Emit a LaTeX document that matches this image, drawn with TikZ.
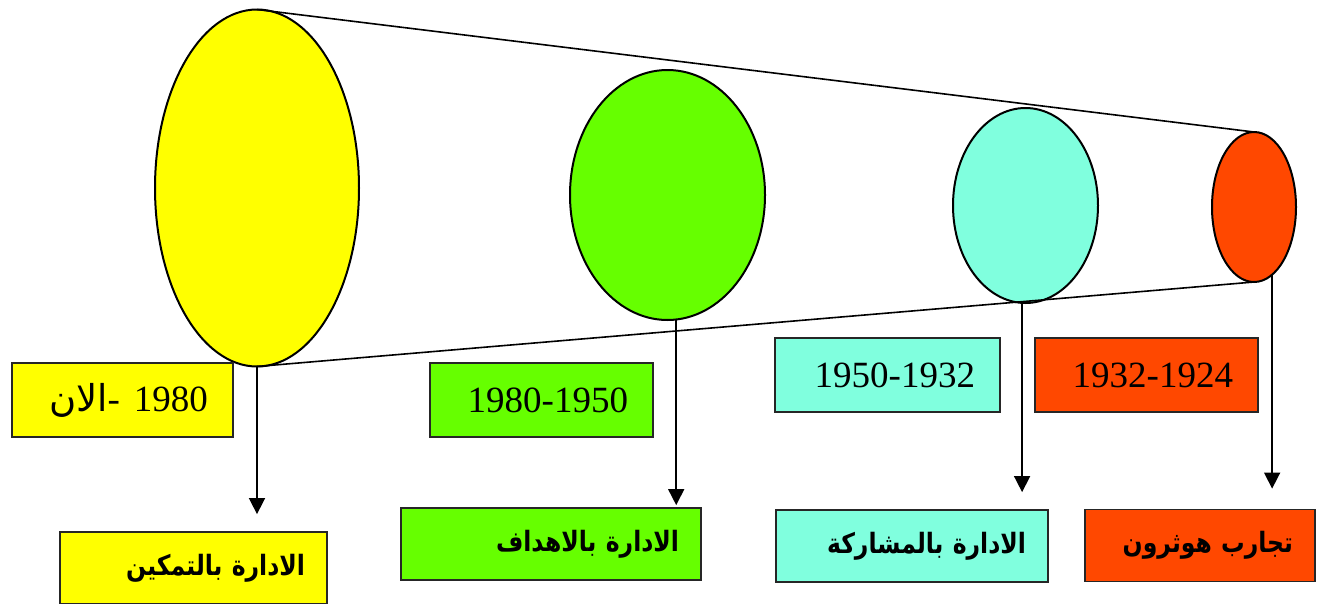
\documentclass[tikz,border=0pt]{standalone}
\usepackage{fontspec}
\setmainfont{Liberation Serif}
\newfontfamily\arabicfont[Script=Arabic]{DejaVu Sans}
\newfontfamily\arabicnarrow[Script=Arabic,FakeStretch=0.84]{DejaVu Sans}
\TeXXeTstate=1
\usetikzlibrary{shapes.geometric,arrows.meta}
\definecolor{eraYellow}{RGB}{255,255,0}
\definecolor{eraGreen}{RGB}{102,255,0}
\definecolor{eraCyan}{RGB}{128,255,222}
\definecolor{eraRed}{RGB}{255,72,0}
\tikzset{
  era/.style={ellipse,draw=black,line width=2pt,inner sep=0pt,outer sep=0pt},
  datebox/.style={rectangle,draw=black!85,line width=1.8pt,minimum height=74pt,
    inner xsep=25pt,inner ysep=0pt,align=right,font=\fontsize{37}{40}\selectfont},
  namebox/.style={rectangle,draw=black!85,line width=1.8pt,minimum height=72pt,
    inner xsep=22pt,inner ysep=0pt,align=right,font=\arabicnarrow\bfseries\fontsize{28}{32}\selectfont},
  cone/.style={line width=1.6pt,black},
  arr/.style={line width=1.6pt,black,-{Triangle[width=16pt,length=16pt]}}
}
\begin{document}
\begin{tikzpicture}[x=1pt,y=-1pt]
\useasboundingbox (0,0) rectangle (1318,603);
\clip (0,0) rectangle (1318,603);

% the four eras, from the present back to the Hawthorne studies
\node[era,fill=eraYellow,minimum width=204pt,minimum height=357pt] (yE) at (257,188) {};
\node[era,fill=eraGreen,minimum width=195pt,minimum height=250pt] (gE) at (667.5,195) {};
\node[era,fill=eraCyan,minimum width=145pt,minimum height=195pt] (cE) at (1025.5,205.5) {};
\node[era,fill=eraRed,minimum width=84pt,minimum height=150pt] (rE) at (1254,207) {};

% cone joining the largest and smallest ellipses
\draw[cone] (yE.north) -- (rE.north);
\draw[cone] (yE.south) -- (rE.south);

% period labels
\node[datebox,fill=eraYellow,text width=171pt] (yD) at (122.5,400)
  {{\arabicfont\beginR الان\endR}-\hspace{14pt}1980};
\node[datebox,fill=eraGreen,text width=173pt] (gD) at (541.5,400) {1980-1950};
\node[datebox,fill=eraCyan,text width=175pt] (cD) at (887.5,375) {1950-1932};
\node[datebox,fill=eraRed,text width=173pt] (rD) at (1146.5,375) {1932-1924};

% management approaches
\node[namebox,fill=eraYellow,text width=223pt] (yB) at (193.5,568) {\beginR الادارة بالتمكين\endR};
\node[namebox,fill=eraGreen,text width=256pt] (gB) at (551,544) {\beginR الادارة بالاهداف\endR};
\node[namebox,fill=eraCyan,text width=228pt] (cB) at (912,546) {\beginR الادارة بالمشاركة\endR};
\node[namebox,fill=eraRed,text width=186pt] (rB) at (1200,545.5) {\beginR تجارب هوثرون\endR};

% arrows from each era to its approach
\draw[arr,shorten >=17pt] (yE.south) -- (yE.south |- yB.north);
\draw[arr,shorten >=2pt] (gE.-86) -- (gE.-86 |- gB.north);
\draw[arr,shorten >=17pt] (cE.-92) -- (cE.-92 |- cB.north);
\draw[arr,shorten >=20pt] (rE.-75) -- (rE.-75 |- rB.north);
\end{tikzpicture}
\end{document}
